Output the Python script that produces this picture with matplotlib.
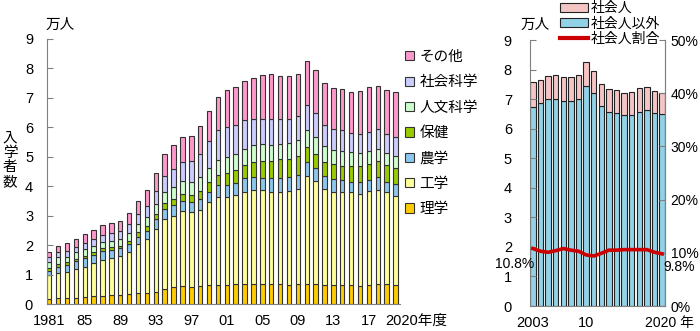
import numpy as np
import matplotlib
matplotlib.use("Agg")
import matplotlib.pyplot as plt
from matplotlib.patches import Patch
from matplotlib.lines import Line2D
from matplotlib.transforms import offset_copy

plt.rcParams['font.family'] = ['Liberation Sans', 'Noto Sans CJK JP']
plt.rcParams['font.size'] = 10.5

# 修士課程入学者数（万人） 分野別 1981-2020
years = list(range(1981, 2021))
rigaku = [0.18, 0.19, 0.19, 0.22, 0.25, 0.26, 0.28, 0.29, 0.31, 0.33,
          0.36, 0.36, 0.40, 0.50, 0.57, 0.61, 0.59, 0.61, 0.63, 0.63,
          0.63, 0.67, 0.67, 0.67, 0.67, 0.67, 0.67, 0.65, 0.67, 0.69,
          0.67, 0.65, 0.64, 0.63, 0.63, 0.62, 0.66, 0.68, 0.67, 0.63]
kogaku = [0.80, 0.85, 0.88, 0.96, 1.02, 1.12, 1.22, 1.26, 1.32, 1.45,
          1.67, 1.86, 2.14, 2.38, 2.42, 2.55, 2.53, 2.59, 2.82, 3.02,
          3.02, 3.03, 3.15, 3.21, 3.20, 3.15, 3.15, 3.19, 3.23, 3.66,
          3.50, 3.25, 3.18, 3.18, 3.16, 3.12, 3.18, 3.20, 3.13, 3.05]
nogaku = [0.15, 0.23, 0.26, 0.28, 0.28, 0.29, 0.30, 0.28, 0.26, 0.27,
          0.26, 0.27, 0.34, 0.34, 0.36, 0.34, 0.35, 0.36, 0.36, 0.40,
          0.39, 0.40, 0.46, 0.43, 0.40, 0.45, 0.45, 0.46, 0.48, 0.46,
          0.46, 0.45, 0.41, 0.41, 0.37, 0.40, 0.38, 0.42, 0.36, 0.39]
hoken = [0.08, 0.08, 0.08, 0.08, 0.08, 0.09, 0.09, 0.10, 0.09, 0.10,
         0.15, 0.17, 0.17, 0.20, 0.21, 0.23, 0.24, 0.28, 0.32, 0.34,
         0.40, 0.46, 0.45, 0.51, 0.58, 0.58, 0.65, 0.63, 0.64, 0.52,
         0.48, 0.48, 0.52, 0.47, 0.51, 0.53, 0.53, 0.55, 0.56, 0.54]
jinbun = [0.20, 0.23, 0.20, 0.22, 0.23, 0.21, 0.22, 0.22, 0.23, 0.25,
          0.28, 0.31, 0.35, 0.37, 0.41, 0.46, 0.45, 0.47, 0.48, 0.49,
          0.54, 0.53, 0.55, 0.58, 0.58, 0.55, 0.50, 0.55, 0.54, 0.58,
          0.56, 0.52, 0.47, 0.49, 0.48, 0.45, 0.43, 0.41, 0.40, 0.40]
shakai = [0.17, 0.18, 0.20, 0.19, 0.20, 0.24, 0.24, 0.25, 0.27, 0.31,
          0.33, 0.37, 0.45, 0.56, 0.61, 0.63, 0.70, 0.79, 0.91, 1.02,
          1.03, 0.98, 0.96, 0.88, 0.87, 0.88, 0.86, 0.81, 0.81, 0.84,
          0.80, 0.73, 0.71, 0.73, 0.67, 0.65, 0.67, 0.68, 0.66, 0.65]
sonota = [0.20, 0.21, 0.25, 0.27, 0.31, 0.31, 0.33, 0.34, 0.34, 0.37,
          0.44, 0.54, 0.59, 0.74, 0.81, 0.85, 0.85, 0.93, 1.02, 1.14,
          1.27, 1.30, 1.33, 1.38, 1.47, 1.52, 1.48, 1.47, 1.45, 1.49,
          1.47, 1.43, 1.41, 1.39, 1.39, 1.47, 1.51, 1.47, 1.50, 1.55]

fields = ['理学', '工学', '農学', '保健', '人文科学', '社会科学', 'その他']
field_colors = ['#FFCC00', '#FFFF99', '#8CC8EE', '#99CC00', '#CCFFCC', '#CCCCFF', '#FF99CC']

# 社会人入学者（万人） 2003-2020
years2 = list(range(2003, 2021))
shakaijin = [0.82, 0.79, 0.78, 0.81, 0.84, 0.81, 0.81, 0.79, 0.75, 0.74,
             0.77, 0.77, 0.76, 0.77, 0.78, 0.79, 0.74, 0.71]
shakaijin_igai = [6.75, 6.87, 6.99, 6.99, 6.92, 6.95, 7.01, 7.45, 7.19, 6.77,
                  6.57, 6.53, 6.45, 6.47, 6.58, 6.62, 6.54, 6.50]
ratio = [10.8, 10.3, 10.1, 10.4, 10.8, 10.5, 10.3, 9.6, 9.4, 9.9,
         10.5, 10.5, 10.6, 10.6, 10.6, 10.6, 10.1, 9.8]

fig = plt.figure(figsize=(7, 3.31), dpi=100)

# ---- 左：分野別積み上げ棒
ax1 = fig.add_axes([47/700, 27/331, 353/700, 265/331])
x = np.arange(len(years))
series = [rigaku, kogaku, nogaku, hoken, jinbun, shakai, sonota]
bottom = np.zeros(len(years))
for vals, name, col in zip(series, fields, field_colors):
    ax1.bar(x, vals, 0.5, bottom=bottom, color=col, edgecolor='#333333',
            linewidth=0.8, label=name)
    bottom += np.array(vals)

ax1.set_xlim(-0.25, 39.5)
ax1.set_ylim(0, 9)
ax1.set_yticks(range(10))
ticks = list(range(0, 37, 4))
ax1.set_xticks(ticks)
ax1.set_xticklabels([str(years[i]) if i == 0 else '%02d' % (years[i] % 100) for i in ticks])
ax1.tick_params(axis='x', length=0, pad=7)
ax1.tick_params(axis='y', direction='in', length=4, pad=10, color='#808080')
for s in ['top', 'right']:
    ax1.spines[s].set_visible(False)
for s in ['left', 'bottom']:
    ax1.spines[s].set_color('#808080')
t1 = offset_copy(ax1.get_xaxis_transform(), fig=fig, x=-10, y=-10, units='dots')
ax1.text(39, 0, '2020年度', transform=t1, ha='left', va='top')

fig.text(60/700, 1 - 25/331, '万人', ha='center', va='center')
fig.text(10/700, 1 - 160/331, '入\n学\n者\n数', ha='center', va='center', linespacing=1.05)

h, l = ax1.get_legend_handles_labels()
fig.legend(h[::-1], l[::-1], loc='upper left', bbox_to_anchor=(405/700, 1 - 50/331),
           frameon=False, handlelength=0.6, handleheight=0.6, handletextpad=0.4,
           labelspacing=0.78, borderpad=0, borderaxespad=0)

# ---- 右：社会人・社会人以外
ax2 = fig.add_axes([530/700, 25/331, 135/700, 266/331])
x2 = np.arange(len(years2))
ax2.bar(x2, shakaijin_igai, 0.7, color='#92D2E6', edgecolor='#222222', linewidth=0.8)
ax2.bar(x2, shakaijin, 0.7, bottom=shakaijin_igai, color='#F5C4C4',
        edgecolor='#222222', linewidth=0.8)
ax2.set_xlim(-0.38, 17.38)
ax2.set_ylim(0, 9)
ax2.set_yticks(range(10))
ax2.set_xticks([0, 7])
ax2.set_xticklabels(['2003', '10'])
ax2.tick_params(axis='x', length=0, pad=7)
ax2.tick_params(axis='y', direction='in', length=4, pad=13, color='#808080')
ax2.spines['top'].set_visible(False)
for s in ['left', 'right', 'bottom']:
    ax2.spines[s].set_color('#808080')
t2 = offset_copy(ax2.get_xaxis_transform(), fig=fig, x=-17, y=-10, units='dots')
ax2.text(17, 0, '2020 年', transform=t2, ha='left', va='top', fontsize=10)

ax3 = ax2.twinx()
ax3.plot(x2, ratio, color='#CC0000', linewidth=2.6)
ax3.set_ylim(0, 50)
ax3.set_yticks(range(0, 51, 10))
ax3.set_yticklabels(['%d%%' % v for v in range(0, 51, 10)])
ax3.tick_params(axis='y', direction='in', length=4, pad=4, color='#808080',
                labelsize=10)
for s in ['top', 'left', 'bottom']:
    ax3.spines[s].set_visible(False)
ax3.spines['right'].set_color('#808080')
ax3.annotate('%.1f%%' % ratio[0], (x2[0], ratio[0]), xytext=(1, -11),
             textcoords='offset points', ha='right', va='center', fontsize=10)
ax3.annotate('%.1f%%' % ratio[-1], (x2[-1], ratio[-1]), xytext=(1, -9.5),
             textcoords='offset points', ha='left', va='center', fontsize=10)

fig.text(535/700, 1 - 25/331, '万人', ha='center', va='center')
h2 = [Patch(facecolor='#F5C4C4', edgecolor='#222222', linewidth=0.8),
      Patch(facecolor='#92D2E6', edgecolor='#222222', linewidth=0.8),
      Line2D([], [], color='#CC0000', linewidth=3)]
fig.legend(h2, ['社会人', '社会人以外', '社会人割合'], loc='upper left',
           bbox_to_anchor=(560/700, 1 - 1/331), frameon=False, fontsize=10,
           handlelength=2.0, handleheight=0.6, handletextpad=0.2,
           labelspacing=0.1, borderpad=0, borderaxespad=0)

fig.savefig('out.png', dpi=100)
